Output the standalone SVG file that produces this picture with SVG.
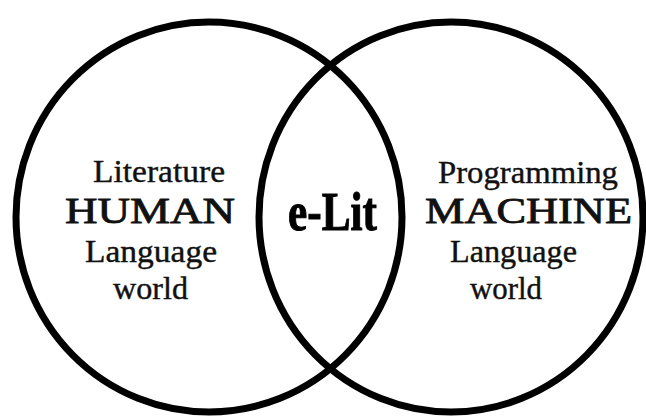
<svg xmlns="http://www.w3.org/2000/svg" width="646" height="417" viewBox="0 0 646 417">
<style>
.ring{fill:none;stroke:#000;stroke-width:7}
.t{font-family:"Liberation Serif","Times New Roman",serif;font-size:31px;fill:#111;stroke:#111;stroke-width:0.4}
.big{font-family:"Liberation Serif","Times New Roman",serif;font-size:35px;fill:#111;stroke:#111;stroke-width:0.8}
.elit{font-family:"Liberation Serif","Times New Roman",serif;font-weight:bold;font-size:54px;fill:#000;stroke:#000;stroke-width:1}
</style>
<rect width="646" height="417" fill="#fff"/>
<g id="connectors"></g>
<g id="human">
<ellipse class="ring" cx="209" cy="217" rx="193" ry="195"/>
<text class="t" x="93" y="182" textLength="132" lengthAdjust="spacingAndGlyphs">Literature</text>
<text class="big" x="65" y="223" textLength="170" lengthAdjust="spacingAndGlyphs">HUMAN</text>
<text class="t" x="85" y="262" textLength="132" lengthAdjust="spacingAndGlyphs">Language</text>
<text class="t" x="113" y="299" textLength="75" lengthAdjust="spacingAndGlyphs">world</text>
</g>
<g id="machine">
<ellipse class="ring" cx="451" cy="217" rx="192" ry="195"/>
<text class="t" x="438" y="183" textLength="180" lengthAdjust="spacingAndGlyphs">Programming</text>
<text class="big" x="425" y="223" textLength="207" lengthAdjust="spacingAndGlyphs">MACHINE</text>
<text class="t" x="450" y="262" textLength="127" lengthAdjust="spacingAndGlyphs">Language</text>
<text class="t" x="470" y="299" textLength="72" lengthAdjust="spacingAndGlyphs">world</text>
</g>
<g id="elit">
<text class="elit" x="288" y="230" textLength="89" lengthAdjust="spacingAndGlyphs">e-Lit</text>
</g>
</svg>
